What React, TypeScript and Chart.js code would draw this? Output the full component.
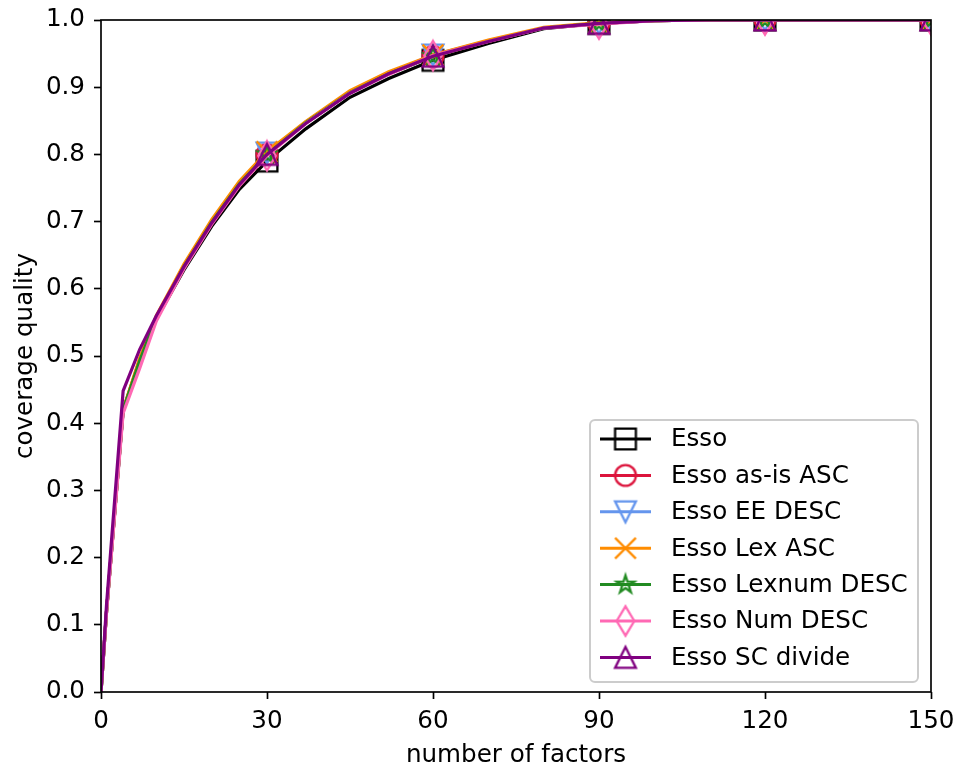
import React, { useEffect, useRef } from "react";
import { Chart, registerables } from "chart.js";

Chart.register(...registerables);

const xs = [0, 1, 4, 7, 10, 15, 20, 25, 30, 37, 45, 52, 60, 70, 80, 90, 100, 110, 120, 135, 150];
const markerXs = [30, 60, 90, 120, 150];

const seriesNames = [
  "Esso",
  "Esso as-is ASC",
  "Esso EE DESC",
  "Esso Lex ASC",
  "Esso Lexnum DESC",
  "Esso Num DESC",
  "Esso SC divide",
];
const seriesColors = ["#000000", "#dc143c", "#6495ed", "#ff8c00", "#228b22", "#ff69b4", "#800080"];
const seriesMarkers = ["square", "circle", "triDown", "x", "star", "thinDiamond", "triUp"];

const esso = [0, 0.12, 0.42, 0.49, 0.555, 0.628, 0.693, 0.748, 0.79, 0.838, 0.885, 0.913, 0.94, 0.965, 0.987, 0.995, 0.999, 1, 1, 1, 1];
const essoAsIsAsc = [0, 0.12, 0.42, 0.495, 0.557, 0.633, 0.698, 0.755, 0.8, 0.847, 0.892, 0.92, 0.946, 0.968, 0.988, 0.995, 0.999, 1, 1, 1, 1];
const essoEeDesc = [0, 0.12, 0.418, 0.487, 0.555, 0.632, 0.698, 0.756, 0.802, 0.848, 0.893, 0.921, 0.948, 0.969, 0.988, 0.995, 0.999, 1, 1, 1, 1];
const essoLexAsc = [0, 0.12, 0.42, 0.497, 0.56, 0.637, 0.703, 0.76, 0.804, 0.849, 0.895, 0.923, 0.948, 0.97, 0.989, 0.996, 0.999, 1, 1, 1, 1];
const essoLexnumDesc = [0, 0.12, 0.42, 0.493, 0.557, 0.633, 0.699, 0.756, 0.8, 0.847, 0.892, 0.92, 0.946, 0.968, 0.988, 0.995, 0.999, 1, 1, 1, 1];
const essoNumDesc = [0, 0.118, 0.415, 0.482, 0.552, 0.63, 0.696, 0.753, 0.798, 0.846, 0.891, 0.919, 0.947, 0.968, 0.988, 0.994, 0.999, 1, 1, 1, 1];
const essoScDivide = [0, 0.13, 0.448, 0.51, 0.56, 0.633, 0.698, 0.755, 0.8, 0.846, 0.891, 0.92, 0.946, 0.968, 0.988, 0.995, 0.999, 1, 1, 1, 1];

const seriesValues = [esso, essoAsIsAsc, essoEeDesc, essoLexAsc, essoLexnumDesc, essoNumDesc, essoScDivide];

const yTicks = [0, 0.1, 0.2, 0.3, 0.4, 0.5, 0.6, 0.7, 0.8, 0.9, 1.0];
const xTicks = [0, 30, 60, 90, 120, 150];

const FONT = "DejaVu Sans";
const FS = 24.6;

function makeMarker(kind: string, color: string): HTMLCanvasElement {
  const S = 36;
  const c = document.createElement("canvas");
  c.width = S;
  c.height = S;
  const g = c.getContext("2d")!;
  g.translate(S / 2, S / 2);
  g.strokeStyle = color;
  g.lineWidth = 2.3;
  g.lineJoin = "miter";
  const h = 10.4;
  g.beginPath();
  if (kind === "square") {
    g.rect(-h, -h, 2 * h, 2 * h);
  } else if (kind === "circle") {
    g.arc(0, 0, h, 0, Math.PI * 2);
  } else if (kind === "triDown") {
    g.moveTo(0, h);
    g.lineTo(-h, -h);
    g.lineTo(h, -h);
    g.closePath();
  } else if (kind === "triUp") {
    g.moveTo(0, -h);
    g.lineTo(-h, h);
    g.lineTo(h, h);
    g.closePath();
  } else if (kind === "x") {
    g.moveTo(-h, -h);
    g.lineTo(h, h);
    g.moveTo(-h, h);
    g.lineTo(h, -h);
  } else if (kind === "star") {
    const R = 9.2;
    const r = R * 0.381966;
    for (let i = 0; i < 10; i++) {
      const rad = i % 2 === 0 ? R : r;
      const a = -Math.PI / 2 + (i * Math.PI) / 5;
      const px = rad * Math.cos(a);
      const py = rad * Math.sin(a);
      if (i === 0) g.moveTo(px, py);
      else g.lineTo(px, py);
    }
    g.closePath();
  } else if (kind === "thinDiamond") {
    const dh = 14.7;
    const dw = 8.8;
    g.moveTo(0, -dh);
    g.lineTo(dw, 0);
    g.lineTo(0, dh);
    g.lineTo(-dw, 0);
    g.closePath();
  }
  g.stroke();
  return c;
}

export default function App() {
  const ref = useRef<HTMLCanvasElement | null>(null);

  useEffect(() => {
    document.body.style.margin = "0";
    Chart.defaults.font.family = FONT;
    const markers = seriesNames.map((_, i) => makeMarker(seriesMarkers[i], seriesColors[i]));

    const datasets = seriesNames.map((name, i) => ({
      label: name,
      data: xs.map((x, j) => ({ x, y: seriesValues[i][j] })),
      borderColor: seriesColors[i],
      backgroundColor: seriesColors[i],
      borderWidth: 3.2,
      tension: 0,
      fill: false,
      clip: 0,
      order: seriesNames.length - 1 - i,
      pointStyle: markers[i],
      pointRadius: (ctx: any) => (markerXs.includes(xs[ctx.dataIndex]) ? 10 : 0),
      pointHoverRadius: 0,
      pointHitRadius: 0,
    }));

    const framePlugin = {
      id: "frameLegend",
      afterDatasetsDraw(chart: any) {
        const { ctx, chartArea } = chart;
        ctx.save();
        ctx.strokeStyle = "#000";
        ctx.lineWidth = 1.67;
        ctx.strokeRect(chartArea.left, chartArea.top, chartArea.right - chartArea.left, chartArea.bottom - chartArea.top);

        // legend
        const bx = 590, by = 420, bw = 328, bh = 262;
        ctx.beginPath();
        if ((ctx as any).roundRect) (ctx as any).roundRect(bx, by, bw, bh, 5);
        else ctx.rect(bx, by, bw, bh);
        ctx.fillStyle = "rgba(255,255,255,0.8)";
        ctx.fill();
        ctx.strokeStyle = "#cccccc";
        ctx.lineWidth = 2;
        ctx.stroke();

        ctx.font = `${FS}px '${FONT}'`;
        ctx.textBaseline = "middle";
        ctx.textAlign = "left";
        seriesNames.forEach((name, i) => {
          const y = 439 + i * 36.4;
          ctx.strokeStyle = seriesColors[i];
          ctx.lineWidth = 3;
          ctx.beginPath();
          ctx.moveTo(600, y);
          ctx.lineTo(651, y);
          ctx.stroke();
          const m = markers[i];
          ctx.drawImage(m, 625.5 - m.width / 2, y - m.height / 2);
          ctx.fillStyle = "#000";
          ctx.fillText(name, 671, y + 1);
        });
        ctx.restore();
      },
    };

    const chart = new Chart(ref.current!, {
      type: "line",
      data: { datasets },
      plugins: [framePlugin],
      options: {
        animation: false,
        responsive: false,
        devicePixelRatio: 1,
        events: [],
        layout: { padding: { top: 20, right: 29, left: 0, bottom: 0 } },
        plugins: { legend: { display: false }, tooltip: { enabled: false } },
        scales: {
          x: {
            type: "linear",
            min: 0,
            max: 150,
            afterFit: (s: any) => {
              s.height = 77;
              s.paddingLeft = 0;
              s.paddingRight = 0;
            },
            afterBuildTicks: (s: any) => {
              s.ticks = xTicks.map((v) => ({ value: v }));
            },
            ticks: {
              color: "#000",
              font: { size: FS, family: FONT },
              padding: 8,
              maxRotation: 0,
              callback: (v: any) => String(v),
            },
            grid: {
              display: true,
              drawOnChartArea: false,
              drawTicks: true,
              tickLength: 7,
              tickWidth: 1.67,
              tickColor: "#000",
            },
            border: { display: false },
            title: {
              display: true,
              text: "number of factors",
              color: "#000",
              font: { size: FS, family: FONT },
              padding: { top: 0, bottom: -1 },
            },
          },
          y: {
            type: "linear",
            min: 0,
            max: 1,
            afterFit: (s: any) => {
              s.width = 101;
              s.paddingTop = 0;
              s.paddingBottom = 0;
            },
            afterBuildTicks: (s: any) => {
              s.ticks = yTicks.map((v) => ({ value: v }));
            },
            ticks: {
              color: "#000",
              font: { size: FS, family: FONT },
              padding: 9,
              callback: (v: any) => Number(v).toFixed(1),
            },
            grid: {
              display: true,
              drawOnChartArea: false,
              drawTicks: true,
              tickLength: 7,
              tickWidth: 1.67,
              tickColor: "#000",
            },
            border: { display: false },
            title: {
              display: true,
              text: "coverage quality",
              color: "#000",
              font: { size: FS, family: FONT },
              padding: { top: 11, bottom: 0 },
            },
          },
        },
      },
    });
    return () => chart.destroy();
  }, []);

  return (
    <div style={{ position: "fixed", left: 0, top: 0, width: 960, height: 769 }}>
      <canvas ref={ref} width={960} height={769} />
    </div>
  );
}
